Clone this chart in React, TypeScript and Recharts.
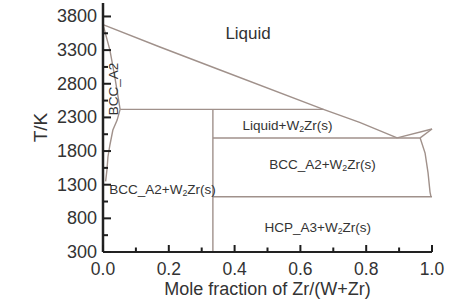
import { LineChart, Line, XAxis, YAxis, ReferenceDot, Label } from "recharts";

// axis ticks (minor ticks carry no label)
const xTicks = [0, 0.1, 0.2, 0.3, 0.4, 0.5, 0.6, 0.7, 0.8, 0.9, 1.0];
const xLabelTicks = [0, 0.2, 0.4, 0.6, 0.8, 1.0];
const yTicks = [300, 550, 800, 1050, 1300, 1550, 1800, 2050, 2300, 2550, 2800, 3050, 3300, 3550, 3800];
const yLabelTicks = [300, 800, 1300, 1800, 2300, 2800, 3300, 3800];

// phase boundaries: x = mole fraction Zr, t = temperature (K)
const liquidusW = [
  { x: 0, t: 3680 },
  { x: 0.173, t: 3346 },
  { x: 0.356, t: 3004 },
  { x: 0.67, t: 2420 },
  { x: 0.78, t: 2225 },
  { x: 0.894, t: 1995 },
];
const liquidusZr = [
  { x: 0.894, t: 1995 },
  { x: 1.0, t: 2128 },
];
const solidusZr = [
  { x: 0.964, t: 1995 },
  { x: 1.0, t: 2128 },
];
const solvusZr = [
  { x: 0.964, t: 1995 },
  { x: 0.979, t: 1770 },
  { x: 0.988, t: 1475 },
  { x: 0.994, t: 1190 },
  { x: 0.997, t: 1120 },
];
const solidusW = [
  { x: 0, t: 3680 },
  { x: 0.021, t: 3300 },
  { x: 0.036, t: 2900 },
  { x: 0.046, t: 2600 },
  { x: 0.052, t: 2420 },
];
const solvusW = [
  { x: 0.052, t: 2420 },
  { x: 0.043, t: 2260 },
  { x: 0.03, t: 2113 },
  { x: 0.021, t: 1890 },
  { x: 0.015, t: 1712 },
  { x: 0.012, t: 1520 },
  { x: 0.008, t: 1350 },
];
const peritectic = [
  { x: 0.052, t: 2420 },
  { x: 0.67, t: 2420 },
];
const eutectic = [
  { x: 0.334, t: 1995 },
  { x: 0.964, t: 1995 },
];
const eutectoid = [
  { x: 0.334, t: 1120 },
  { x: 1.0, t: 1120 },
];
const w2zr = [
  { x: 0.334, t: 2420 },
  { x: 0.334, t: 300 },
];

const boundaries = [liquidusW, liquidusZr, solidusZr, solvusZr, solidusW, solvusW, peritectic, eutectic, eutectoid, w2zr];

const regionLabels = [
  { text: "Liquid", x: 0.441, t: 3554, size: 17, rotate: false },
  { text: "Liquid+W2Zr(s)", x: 0.561, t: 2190, size: 13.5, rotate: false },
  { text: "BCC_A2+W2Zr(s)", x: 0.667, t: 1607, size: 13.5, rotate: false },
  { text: "HCP_A3+W2Zr(s)", x: 0.653, t: 672, size: 13.5, rotate: false },
  { text: "BCC_A2+W2Zr(s)", x: 0.181, t: 1236, size: 13.5, rotate: false },
  { text: "BCC_A2", x: 0.033, t: 2722, size: 13.5, rotate: true },
];

const FONT = "Arial, 'Liberation Sans', sans-serif";
const LINE = "#a0918b";
const AXIS = "#222222";

function XTick(props: any) {
  const { x, y, payload } = props;
  const v = payload.value;
  const major = xLabelTicks.some((m) => Math.abs(m - v) < 1e-6);
  const len = major ? 7 : 4.5;
  return (
    <g>
      <rect x={x - 1} y={y - len} width={2} height={len} fill="#1e1e1e" />
      {major && (
        <text x={x} y={y + 23} textAnchor="middle" fontSize={17.5} fontFamily={FONT} fill="#333">
          {v.toFixed(1)}
        </text>
      )}
    </g>
  );
}

function YTick(props: any) {
  const { x, y, payload } = props;
  const v = payload.value;
  const major = yLabelTicks.includes(v);
  const ax = x + 6;
  const len = major ? 8 : 5;
  return (
    <g>
      <rect x={ax} y={y - 1} width={len} height={2} fill="#1e1e1e" />
      {major && (
        <text x={x} y={y} textAnchor="end" dominantBaseline="central" fontSize={18} fontFamily={FONT} fill="#333">
          {v}
        </text>
      )}
    </g>
  );
}

function regionText(props: any, item: any) {
  const vb = props.viewBox || {};
  const cx = vb.x + (vb.width || 0) / 2;
  const cy = vb.y + (vb.height || 0) / 2;
  const parts = item.text.split("W2Z");
  const content =
    parts.length > 1 ? (
      <>
        <tspan>{parts[0]}W</tspan>
        <tspan dy={4} fontSize={item.size * 0.65}>2</tspan>
        <tspan dy={-4}>Z{parts[1]}</tspan>
      </>
    ) : (
      item.text
    );
  return (
    <text
      x={cx}
      y={cy}
      textAnchor="middle"
      dominantBaseline="central"
      fontSize={item.size}
      fontFamily={FONT}
      fill="#333"
      transform={item.rotate ? `rotate(-90 ${cx} ${cy})` : undefined}
    >
      {content}
    </text>
  );
}

export default function App() {
  return (
    <div style={{ position: "absolute", left: 0, top: 0, background: "#fff" }}>
      <LineChart width={466} height={302} margin={{ top: 3, right: 34, left: 0, bottom: 0 }}>
        <XAxis
          type="number"
          dataKey="x"
          domain={[0, 1]}
          ticks={xTicks}
          interval={0}
          height={50}
          tickSize={0}
          tickMargin={0}
          tickLine={false}
          tick={<XTick />}
          axisLine={{ stroke: AXIS, strokeWidth: 2 }}
        >
          <Label
            content={(p: any) => {
              const vb = p.viewBox;
              return (
                <text x={vb.x + vb.width / 2} y={vb.y + 43} textAnchor="middle" fontSize={18} fontFamily={FONT} fill="#333">
                  Mole fraction of Zr/(W+Zr)
                </text>
              );
            }}
          />
        </XAxis>
        <XAxis xAxisId="top" orientation="top" type="number" domain={[0, 1]} height={0} tick={false} tickLine={false} axisLine={{ stroke: AXIS, strokeWidth: 2.5 }} />
        <YAxis
          type="number"
          dataKey="t"
          domain={[300, 4000]}
          ticks={yTicks}
          interval={0}
          width={103}
          tickSize={0}
          tickMargin={6}
          tickLine={false}
          tick={<YTick />}
          axisLine={{ stroke: AXIS, strokeWidth: 2.5 }}
        >
          <Label
            content={(p: any) => {
              const vb = p.viewBox;
              const cy = vb.y + vb.height / 2;
              return (
                <text x={40} y={cy} textAnchor="middle" dominantBaseline="central" fontSize={19} fontFamily={FONT} fill="#333" transform={`rotate(-90 40 ${cy})`}>
                  T/K
                </text>
              );
            }}
          />
        </YAxis>
        <YAxis yAxisId="right" orientation="right" type="number" domain={[300, 4000]} width={0} tick={false} tickLine={false} axisLine={{ stroke: "#444", strokeWidth: 2 }} />
        {boundaries.map((d, i) => (
          <Line
            key={i}
            data={d}
            dataKey="t"
            type="linear"
            stroke={LINE}
            strokeWidth={1.4}
            dot={false}
            activeDot={false}
            isAnimationActive={false}
          />
        ))}
        {regionLabels.map((item, i) => (
          <ReferenceDot
            key={`lbl-${i}`}
            x={item.x}
            y={item.t}
            r={0}
            fill="none"
            stroke="none"
            label={(p: any) => regionText(p, item)}
          />
        ))}
      </LineChart>
    </div>
  );
}
